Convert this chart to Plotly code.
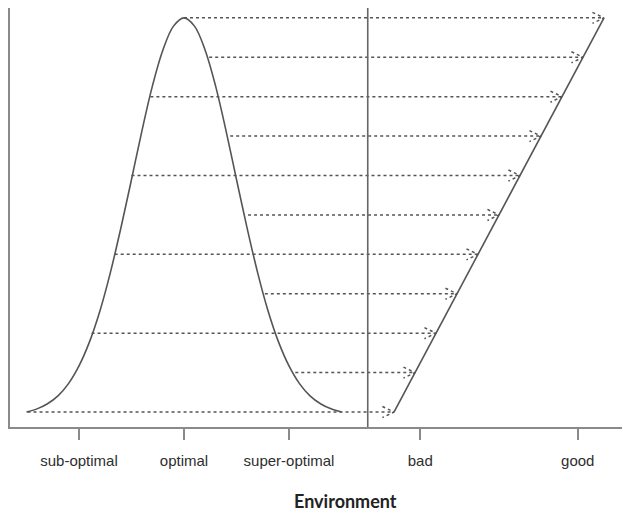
import numpy as np
import plotly.graph_objects as go

# left panel: performance curve across environment (optimal = 0)
env_x = [-1.5, -1.4, -1.3, -1.2, -1.1, -1.0, -0.9, -0.8, -0.7, -0.6, -0.5,
         -0.4, -0.3, -0.2, -0.1, 0.0, 0.1, 0.2, 0.3, 0.4, 0.5,
         0.6, 0.7, 0.8, 0.9, 1.0, 1.1, 1.2, 1.3, 1.4, 1.5]
performance = [0.0, 0.008, 0.021, 0.041, 0.072, 0.117, 0.178, 0.257, 0.355, 0.468, 0.590,
               0.714, 0.828, 0.919, 0.979, 1.0, 0.979, 0.919, 0.828, 0.714, 0.590,
               0.468, 0.355, 0.257, 0.178, 0.117, 0.072, 0.041, 0.021, 0.008, 0.0]

# horizontal arrows: level and where they leave the curve
levels = [1.0, 0.9, 0.8, 0.7, 0.6, 0.5, 0.4, 0.3, 0.2, 0.1, 0.0]
arrow_start = [0.0, 0.24, -0.32, 0.44, -0.50, 0.61, -0.66, 0.77, -0.88, 1.06, -1.49]

# right panel: environment quality line (bad -> good)
quality_x = [2.0, 4.0]
quality_y = [0.0, 1.0]

divider_x = 1.75
tick_vals = [-1.0, 0.0, 1.0, 2.25, 3.75]
tick_text = ["sub-optimal", "optimal", "super-optimal", "bad", "good"]

LINE = "#555555"
AXIS = "#8a8a8a"

fig = go.Figure()

fig.add_trace(go.Scatter(
    x=env_x, y=performance, mode="lines", line_shape="spline",
    line=dict(color=LINE, width=1.6), hoverinfo="skip",
))

fig.add_trace(go.Scatter(
    x=quality_x, y=quality_y, mode="lines",
    line=dict(color=LINE, width=1.6), hoverinfo="skip",
))

# dotted arrows with open heads, ending on the quality line
head_dx, head_dy = 0.11, 0.014
ax, ay = [], []
for lv, x0 in zip(levels, arrow_start):
    tip = float(np.interp(lv, quality_y, quality_x))
    ax += [x0, tip, None, tip - head_dx, tip, tip - head_dx, None]
    ay += [lv, lv, None, lv + head_dy, lv, lv - head_dy, None]

fig.add_trace(go.Scatter(
    x=ax, y=ay, mode="lines",
    line=dict(color=LINE, width=1.5, dash="dot"), hoverinfo="skip",
))

fig.add_shape(type="line", xref="x", yref="paper", x0=divider_x, x1=divider_x,
              y0=0, y1=1, line=dict(color="#666666", width=1.6))

fig.add_annotation(text="<b>Environment</b>", xref="paper", yref="paper",
                   x=0.546, y=-0.177, showarrow=False, xanchor="center", yanchor="middle",
                   font=dict(family="Lato, sans-serif", size=18, color="#222222"))

# page body adds an 8px offset, so the figure is drawn 8px smaller
fig.update_layout(
    width=622, height=504,
    margin=dict(l=2, r=5, t=0, b=85),
    paper_bgcolor="white", plot_bgcolor="white",
    showlegend=False,
    xaxis=dict(
        range=[-1.657, 4.2], showgrid=False, zeroline=False,
        showline=True, linecolor=AXIS, linewidth=1.6,
        tickmode="array", tickvals=tick_vals, ticktext=tick_text,
        ticks="outside", ticklen=11, tickwidth=1.6, tickcolor=AXIS,
        ticklabelstandoff=8,
        tickfont=dict(family="Liberation Sans, Arial, sans-serif", size=15, color="#2e2e2e"),
    ),
    yaxis=dict(
        range=[-0.038, 1.025], showgrid=False, zeroline=False,
        showline=True, linecolor=AXIS, linewidth=1.6,
        showticklabels=False, ticks="",
    ),
)

fig.write_html("out.html")
